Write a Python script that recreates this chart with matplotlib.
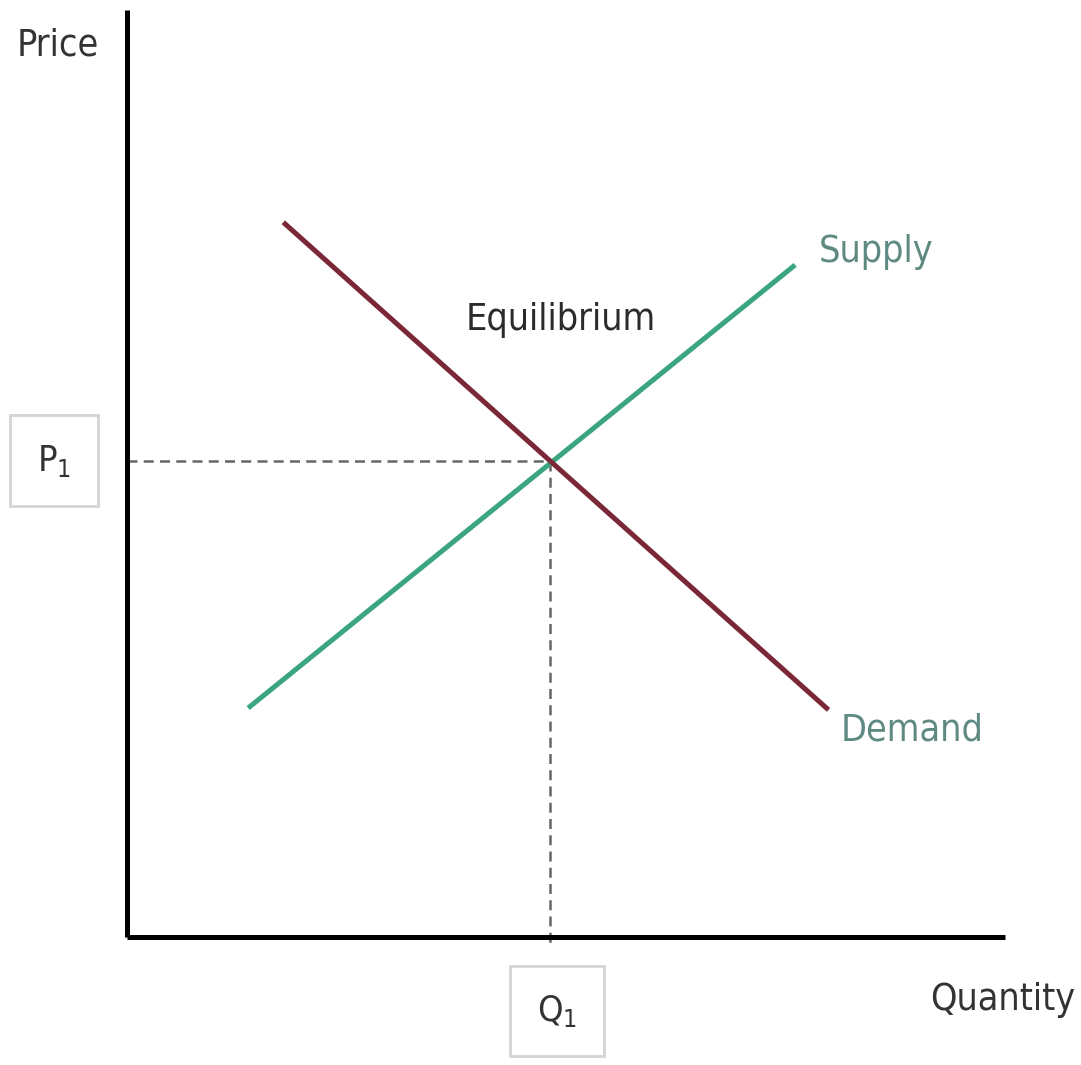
import matplotlib.pyplot as plt
import matplotlib as mpl

# Fonts
plt.rcParams['font.family'] = ['DejaVu Sans']
plt.rcParams['font.stretch'] = 'condensed'
plt.rcParams['mathtext.fontset'] = 'custom'
plt.rcParams['mathtext.rm'] = 'DejaVu Sans:stretch=condensed'
plt.rcParams['mathtext.it'] = 'DejaVu Sans:stretch=condensed'

# Data (quantity, price)
supply_q = [1.38, 7.61]
supply_p = [2.47, 7.25]
demand_q = [1.78, 7.99]
demand_p = [7.71, 2.45]
eq_q = 4.82
eq_p = 5.14

green = '#3aa57e'
red = '#7a2838'
label_col = '#5f8a82'

fig = plt.figure(figsize=(10.81, 10.65), dpi=100)
ax = fig.add_axes([127 / 1081, (1065 - 937) / 1065, (1005 - 127) / 1081, (937 - 10) / 1065])
ax.set_xlim(0, 10)
ax.set_ylim(0, 10)
ax.axis('off')

# axes lines
ax.plot([0, 0], [0, 10], color='black', lw=3.6, solid_capstyle='butt', clip_on=False, zorder=3)
ax.plot([0, 10], [0, 0], color='black', lw=3.6, solid_capstyle='butt', clip_on=False, zorder=3)

# dashed guides
ax.plot([0, eq_q], [eq_p, eq_p], color='#666666', lw=1.8, ls=(0, (4, 2.5)), zorder=1)
ax.plot([eq_q, eq_q], [eq_p, -0.1], color='#666666', lw=1.8, ls=(0, (4, 2.5)), zorder=1, clip_on=False)

# curves
ax.plot(supply_q, supply_p, color=green, lw=3.6, solid_capstyle='butt', zorder=2)
ax.plot(demand_q, demand_p, color=red, lw=3.6, solid_capstyle='butt', zorder=2)

# labels
ax.text(-0.79, 9.62, 'Price', fontsize=27, color='#333333', ha='center', va='center', clip_on=False)
ax.text(9.98, -0.68, 'Quantity', fontsize=27, color='#333333', ha='center', va='center', clip_on=False)
ax.text(8.53, 7.39, 'Supply', fontsize=27, color=label_col, ha='center', va='center')
ax.text(8.94, 2.23, 'Demand', fontsize=27, color=label_col, ha='center', va='center')
ax.text(4.94, 6.66, 'Equilibrium', fontsize=27, color='#2b2b2b', ha='center', va='center')

box = dict(boxstyle='square,pad=0.75', facecolor='white', edgecolor='#d4d4d4', lw=2)
ax.text(-0.83, eq_p, r'$\mathrm{P}_1$', fontsize=26, color='#333333', ha='center', va='center',
        bbox=box, clip_on=False)
ax.text(4.9, -0.80, r'$\mathrm{Q}_1$', fontsize=26, color='#333333', ha='center', va='center',
        bbox=box, clip_on=False)

fig.savefig('out.png', dpi=100)
